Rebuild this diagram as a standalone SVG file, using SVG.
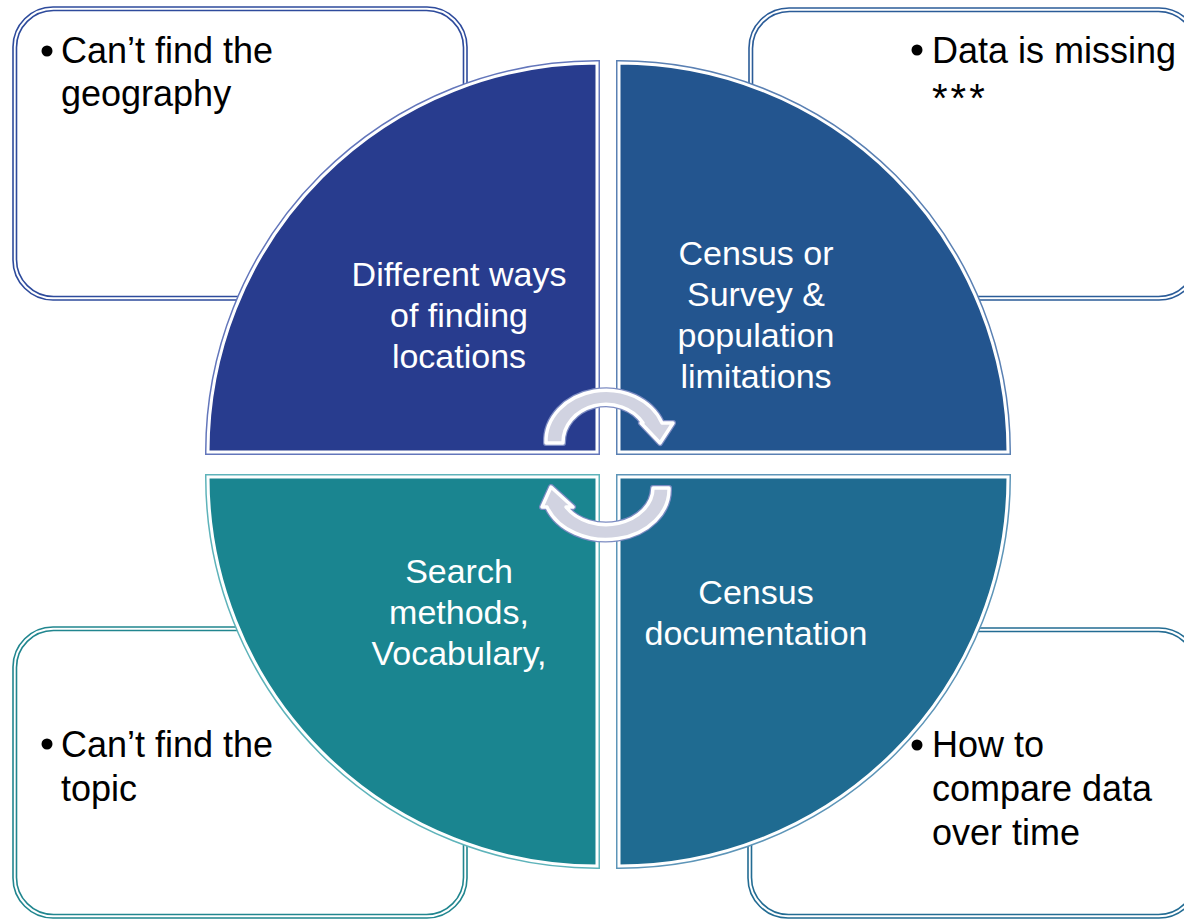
<svg xmlns="http://www.w3.org/2000/svg" width="1184" height="920" viewBox="0 0 1184 920">
<style>
.box{fill:#fff;stroke-width:1.6}
.bt{font-family:"Liberation Sans",Arial,sans-serif;font-size:36px;fill:#000}
.qt{font-family:"Liberation Sans",Arial,sans-serif;font-size:34px;fill:#fff;text-anchor:middle}
.qo{stroke-width:6}
.qw{stroke:#fff;stroke-width:3}
.arO{fill:#d1d3e1;stroke:#7d8cc2;stroke-width:6;stroke-linejoin:round}
.arW{fill:#d1d3e1;stroke:#fff;stroke-width:3.5;stroke-linejoin:round}
</style>
<rect width="1184" height="920" fill="#fff"/>
<g id="box-tl">
<rect class="box" x="13" y="7" width="454" height="293" rx="40" stroke="#2e4b9c"/>
<rect class="box" x="16.5" y="10.5" width="447" height="286" rx="37" stroke="#2e4b9c"/>
<circle cx="47" cy="51" r="5.5"/>
<text class="bt" x="61" y="63">Can’t find the</text>
<text class="bt" x="61" y="106">geography</text>
</g>
<g id="box-tr">
<rect class="box" x="749" y="8" width="450" height="292" rx="40" stroke="#2b5c98"/>
<rect class="box" x="752.5" y="11.5" width="443" height="285" rx="37" stroke="#2b5c98"/>
<circle cx="917" cy="50" r="5.5"/>
<text class="bt" x="932" y="63">Data is missing</text>
<text class="bt" x="932" y="112" style="font-size:40px;letter-spacing:3px">***</text>
</g>
<g id="box-bl">
<rect class="box" x="13" y="627" width="454" height="291" rx="40" stroke="#21868f"/>
<rect class="box" x="16.5" y="630.5" width="447" height="284" rx="37" stroke="#21868f"/>
<circle cx="47" cy="744" r="5.5"/>
<text class="bt" x="61" y="757">Can’t find the</text>
<text class="bt" x="61" y="801">topic</text>
</g>
<g id="box-br">
<rect class="box" x="748" y="628" width="451" height="290" rx="40" stroke="#236c93"/>
<rect class="box" x="751.5" y="631.5" width="444" height="283" rx="37" stroke="#236c93"/>
<circle cx="917" cy="745" r="5.5"/>
<text class="bt" x="932" y="757">How to</text>
<text class="bt" x="932" y="801">compare data</text>
<text class="bt" x="932" y="845">over time</text>
</g>
<g id="q-tl">
<path class="qo" d="M597,452 L208,452 A389,389 0 0 1 597,63 Z" fill="#283c8e" stroke="#6376bb"/>
<path class="qw" d="M597,452 L208,452 A389,389 0 0 1 597,63 Z" fill="#283c8e"/>
<text class="qt" x="459" y="286">Different ways</text>
<text class="qt" x="459" y="327">of finding</text>
<text class="qt" x="459" y="368">locations</text>
</g>
<g id="q-tr">
<path class="qo" d="M619,452 L619,63 A389,389 0 0 1 1008,452 Z" fill="#23558f" stroke="#5a80b3"/>
<path class="qw" d="M619,452 L619,63 A389,389 0 0 1 1008,452 Z" fill="#23558f"/>
<text class="qt" x="756" y="265">Census or</text>
<text class="qt" x="756" y="306">Survey &amp;</text>
<text class="qt" x="756" y="347">population</text>
<text class="qt" x="756" y="388">limitations</text>
</g>
<g id="q-bl">
<path class="qo" d="M597,477 L597,866 A389,389 0 0 1 208,477 Z" fill="#1a8590" stroke="#5eb3ba"/>
<path class="qw" d="M597,477 L597,866 A389,389 0 0 1 208,477 Z" fill="#1a8590"/>
<text class="qt" x="459" y="583">Search</text>
<text class="qt" x="459" y="624">methods,</text>
<text class="qt" x="459" y="665">Vocabulary,</text>
</g>
<g id="q-br">
<path class="qo" d="M619,477 L1008,477 A389,389 0 0 1 619,866 Z" fill="#1f6b91" stroke="#5d95b8"/>
<path class="qw" d="M619,477 L1008,477 A389,389 0 0 1 619,866 Z" fill="#1f6b91"/>
<text class="qt" x="756" y="604">Census</text>
<text class="qt" x="756" y="645">documentation</text>
</g>
<g id="connectors">
<path class="arO" d="M546,443 A60,51 0 0 1 662,423 L673,423 L660,443 L641,423 L643,423 A43,38 0 0 0 563,443 Z"/>
<path class="arW" d="M546,443 A60,51 0 0 1 662,423 L673,423 L660,443 L641,423 L643,423 A43,38 0 0 0 563,443 Z"/>
<path class="arO" d="M669,488 A63,50 0 0 1 547,507 L542,507 L551,487 L573,507 L566,507 A47,37 0 0 0 653,488 Z"/>
<path class="arW" d="M669,488 A63,50 0 0 1 547,507 L542,507 L551,487 L573,507 L566,507 A47,37 0 0 0 653,488 Z"/>
</g>
</svg>
